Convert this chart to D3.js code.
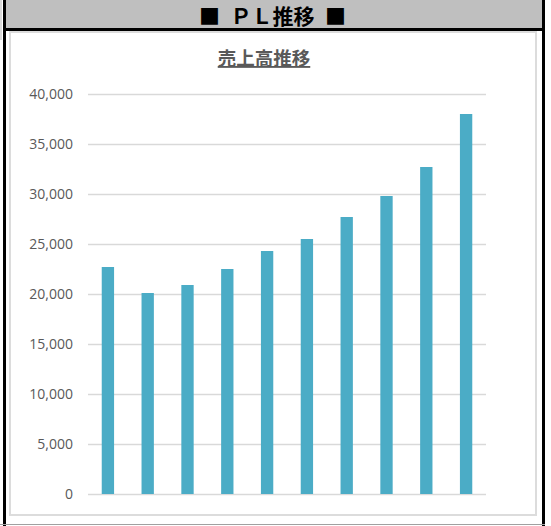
<!DOCTYPE html>
<html>
<head>
<meta charset="utf-8">
<script src="https://cdn.jsdelivr.net/npm/d3@7"></script>
<style>
  body { margin: 0; background: #fff; }
</style>
</head>
<body>
<div id="main"></div>
<script>
// data
var categories = ["1期", "2期", "3期", "4期", "5期", "6期", "7期", "8期", "9期", "10期"];
var sales = [22700, 20100, 20900, 22500, 24300, 25500, 27700, 29800, 32700, 38000];
var yTicks = [0, 5000, 10000, 15000, 20000, 25000, 30000, 35000, 40000];

var width = 551, height = 526;
var plot = { left: 88, right: 486, top: 94, bottom: 494 };

var svg = d3.select("#main").append("svg")
    .attr("width", width)
    .attr("height", height);

// frame
svg.append("rect").attr("x", 6).attr("y", 0).attr("width", 536).attr("height", 28).attr("fill", "#bfbfbf");
svg.append("rect").attr("x", 3).attr("y", 28).attr("width", 542).attr("height", 3).attr("fill", "#000");
svg.append("rect").attr("x", 3).attr("y", 0).attr("width", 3).attr("height", height).attr("fill", "#000");
svg.append("rect").attr("x", 542).attr("y", 0).attr("width", 3).attr("height", height).attr("fill", "#000");
svg.append("rect").attr("x", 0).attr("y", 0).attr("width", 2).attr("height", 40).attr("fill", "#d9d9d9");
svg.append("line").attr("x1", 0).attr("x2", 545).attr("y1", 524.5).attr("y2", 524.5)
    .attr("stroke", "#a0a0a0").attr("stroke-width", 1);
svg.append("rect").attr("x", 10).attr("y", 32).attr("width", 526).attr("height", 483)
    .attr("fill", "none").attr("stroke", "#dcdcdc").attr("stroke-width", 2);

// header
svg.append("text")
    .attr("x", 272.5).attr("y", 23.5)
    .attr("text-anchor", "middle")
    .style("font-family", "'Noto Sans CJK JP', sans-serif")
    .style("font-weight", "bold")
    .style("font-size", "21px")
    .attr("fill", "#000")
    .text("■\u2002ＰＬ推移\u2002■");

// chart title
svg.append("text")
    .attr("x", 264).attr("y", 65)
    .attr("text-anchor", "middle")
    .style("font-family", "'Noto Sans CJK JP', sans-serif")
    .style("font-weight", "bold")
    .style("font-size", "18.5px")
    .style("text-decoration", "underline")
    .attr("fill", "#595959")
    .text("売上高推移");

var x = d3.scaleBand()
    .domain(categories)
    .range([plot.left, plot.right])
    .paddingInner(0.69)
    .paddingOuter(0.345);

var y = d3.scaleLinear()
    .domain([0, 40000])
    .range([plot.bottom, plot.top]);

var yAxis = svg.append("g")
    .attr("transform", "translate(" + plot.left + ",0)")
    .call(d3.axisLeft(y)
        .tickValues(yTicks)
        .tickSize(-(plot.right - plot.left))
        .tickPadding(15)
        .tickFormat(d3.format(",")));
yAxis.select(".domain").remove();
yAxis.selectAll(".tick line").attr("stroke", "#d9d9d9").attr("stroke-width", 1.3);
yAxis.selectAll(".tick text")
    .attr("fill", "#595959")
    .style("font-family", "'Open Sans', sans-serif")
    .style("font-size", "14px");

svg.append("g")
    .selectAll("rect")
    .data(sales)
    .enter()
    .append("rect")
    .attr("x", function(d, i) { return x(categories[i]); })
    .attr("y", function(d) { return y(d); })
    .attr("width", x.bandwidth())
    .attr("height", function(d) { return y(0) - y(d); })
    .attr("fill", "#4bacc6");
</script>
</body>
</html>
